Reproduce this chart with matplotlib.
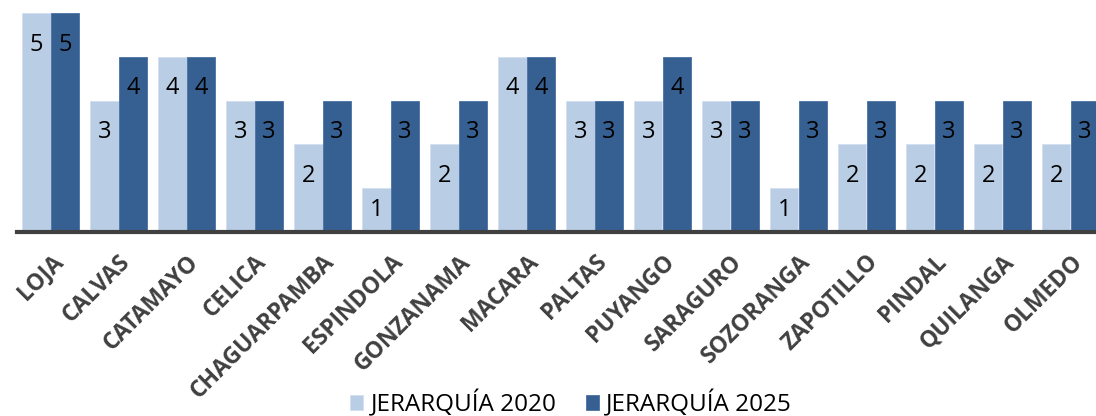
import matplotlib.pyplot as plt
import numpy as np

# Jerarquía por cantón
cantones = ["LOJA", "CALVAS", "CATAMAYO", "CELICA", "CHAGUARPAMBA", "ESPINDOLA",
            "GONZANAMA", "MACARA", "PALTAS", "PUYANGO", "SARAGURO", "SOZORANGA",
            "ZAPOTILLO", "PINDAL", "QUILANGA", "OLMEDO"]
jer_2020 = [5, 3, 4, 3, 2, 1, 2, 4, 3, 3, 3, 1, 2, 2, 2, 2]
jer_2025 = [5, 4, 4, 3, 3, 3, 3, 4, 3, 4, 3, 3, 3, 3, 3, 3]

c2020 = "#B9CDE5"
c2025 = "#366092"

W, H = 1096, 416
fig = plt.figure(figsize=(W / 100, H / 100), dpi=100)
ax = fig.add_axes([16.5 / W, 1 - 232 / H, 1088 / W, 219 / H])

x = np.arange(len(cantones))
bw = 0.42
b1 = ax.bar(x - bw / 2, jer_2020, bw, color=c2020, edgecolor="#D3E0EF", linewidth=0.6,
            label="JERARQUÍA 2020")
b2 = ax.bar(x + bw / 2, jer_2025, bw, color=c2025, edgecolor="#4A72A4", linewidth=0.6,
            label="JERARQUÍA 2025")

# etiquetas dentro de la barra, cerca del extremo superior
for bars, vals in ((b1, jer_2020), (b2, jer_2025)):
    for b, v in zip(bars, vals):
        ypos = max(v - 0.72, v / 2)
        ax.text(b.get_x() + b.get_width() / 2, ypos, str(v), ha="center", va="center",
                fontsize=17, color="black", family="Open Sans")

ax.set_xlim(-0.5, len(cantones) - 0.5)
ax.set_ylim(0, 5)
for s in ["top", "right", "left"]:
    ax.spines[s].set_visible(False)
ax.spines["bottom"].set_color("#404040")
ax.spines["bottom"].set_linewidth(3)
ax.set_yticks([])
ax.set_xticks(x)
ax.tick_params(axis="x", length=0, pad=13)
ax.set_xticklabels(cantones, rotation=45, ha="right", rotation_mode="anchor",
                   fontsize=16.5, fontweight="bold", color="#404040", family="Open Sans")

fig.legend(loc="lower center", bbox_to_anchor=(571 / W, -0.055), ncol=2,
           frameon=False, handlelength=0.55, handleheight=0.55, handletextpad=0.3,
           columnspacing=1.2, prop={"family": "Open Sans", "size": 17.5})

fig.savefig("out.png", dpi=100)
